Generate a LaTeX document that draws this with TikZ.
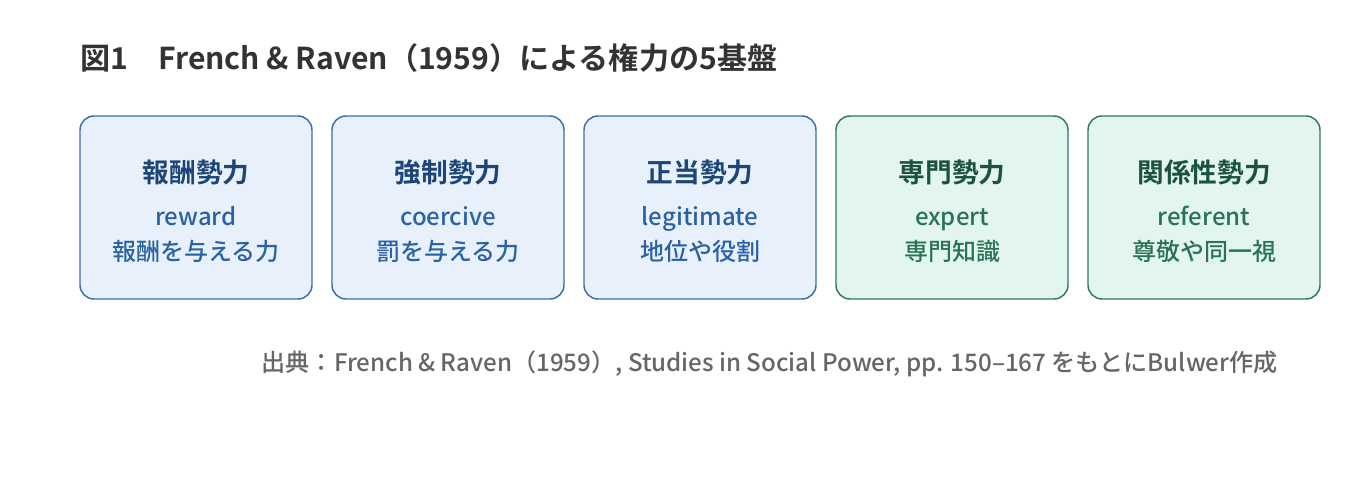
\documentclass[tikz,border=0pt]{standalone}
\usepackage{fontspec}
\setmainfont{Noto Sans CJK JP}
\newfontfamily\jpmed{Noto Sans CJK JP Medium}
\newfontfamily\jpbold{Noto Sans CJK JP Bold}
\usetikzlibrary{positioning}

\definecolor{bluefill}{HTML}{E8F1FB}
\definecolor{blueline}{HTML}{3A6EA8}
\definecolor{bluehead}{HTML}{1D4577}
\definecolor{bluetext}{HTML}{2A62A6}
\definecolor{greenfill}{HTML}{E2F5EE}
\definecolor{greenline}{HTML}{2F7A5C}
\definecolor{greenhead}{HTML}{1C5240}
\definecolor{greentext}{HTML}{2A7356}
\definecolor{titlegray}{HTML}{333333}
\definecolor{notegray}{HTML}{666666}

\tikzset{
  powbox/.style={draw, rounded corners=10.5pt, line width=1.1pt, minimum width=174pt, minimum height=137.25pt, inner sep=0pt, outer sep=0pt},
  bluebox/.style={powbox, draw=blueline, fill=bluefill},
  greenbox/.style={powbox, draw=greenline, fill=greenfill},
  headtxt/.style={anchor=base, inner sep=0pt, font=\jpbold\fontsize{20}{24}\selectfont, yshift=18.4pt},
  entxt/.style={anchor=base, inner sep=0pt, font=\jpmed\fontsize{18}{21}\selectfont, yshift=-13.5pt},
  jptxt/.style={anchor=base, inner sep=0pt, font=\jpmed\fontsize{18}{21}\selectfont, yshift=-40.1pt}
}

\begin{document}
\begin{tikzpicture}[x=0.75pt, y=-0.75pt, node distance=15pt]
  \useasboundingbox[fill=white] (0,0) rectangle (1360,480);

  % title
  \node[anchor=base west, inner sep=0pt, text=titlegray, font=\jpbold\fontsize{22.6}{26}\selectfont] (fig) at (80,69) {図1　French \& Raven（1959）による権力の5基盤};

  % five bases
  \node[bluebox] at (196,207.5) (rew) {};
  \node[bluebox, right=of rew] (coe) {};
  \node[bluebox, right=of coe] (leg) {};
  \node[greenbox, right=of leg] (exp) {};
  \node[greenbox, right=of exp] (ref) {};

  \node[headtxt, text=bluehead] at (rew.center) {報酬勢力};
  \node[entxt, text=bluetext] at (rew.center) {reward};
  \node[jptxt, text=bluetext] at (rew.center) {報酬を与える力};

  \node[headtxt, text=bluehead] at (coe.center) {強制勢力};
  \node[entxt, text=bluetext] at (coe.center) {coercive};
  \node[jptxt, text=bluetext] at (coe.center) {罰を与える力};

  \node[headtxt, text=bluehead] at (leg.center) {正当勢力};
  \node[entxt, text=bluetext] at (leg.center) {legitimate};
  \node[jptxt, text=bluetext] at (leg.center) {地位や役割};

  \node[headtxt, text=greenhead] at (exp.center) {専門勢力};
  \node[entxt, text=greentext] at (exp.center) {expert};
  \node[jptxt, text=greentext] at (exp.center) {専門知識};

  \node[headtxt, text=greenhead] at (ref.center) {関係性勢力};
  \node[entxt, text=greentext] at (ref.center) {referent};
  \node[jptxt, text=greentext] at (ref.center) {尊敬や同一視};

  % source
  \node[anchor=base east, inner sep=0pt, text=notegray, font=\jpmed\fontsize{18.1}{21}\selectfont] (src) at (1278,371) {出典：French \& Raven（1959）, Studies in Social Power, pp. 150–167 をもとにBulwer作成};
\end{tikzpicture}
\end{document}
